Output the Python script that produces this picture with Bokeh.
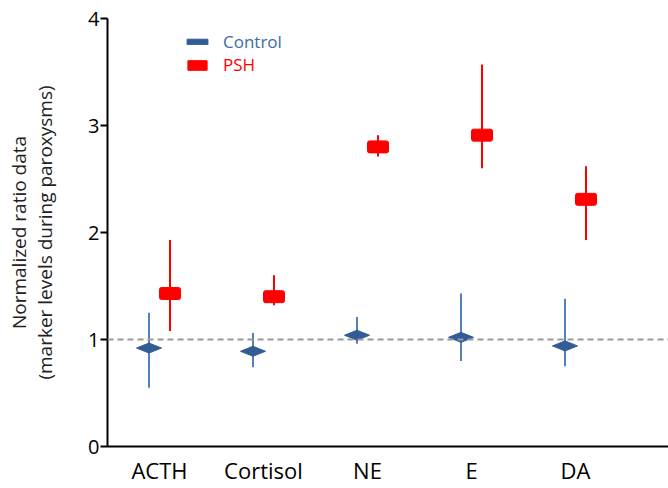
from bokeh.plotting import figure
from bokeh.models import Range1d, Span, Legend, LegendItem, FixedTicker
from bokeh.embed import file_html
from bokeh.resources import INLINE

categories = ["ACTH", "Cortisol", "NE", "E", "DA"]
control_mean = [0.92, 0.89, 1.04, 1.02, 0.94]
control_low = [0.55, 0.74, 0.96, 0.80, 0.75]
control_high = [1.25, 1.06, 1.21, 1.43, 1.38]
psh_mean = [1.43, 1.40, 2.80, 2.91, 2.31]
psh_low = [1.08, 1.32, 2.71, 2.60, 1.93]
psh_high = [1.93, 1.60, 2.91, 3.57, 2.62]
y_ticks = [0, 1, 2, 3, 4]
reference_level = 1.0
y_label_lines = ["Normalized ratio data", "(marker levels during paroxysms)"]

FONT = "Open Sans"
BLUE = "#315c94"
BLUE_LINE = "#5280bd"
RED = "#ff0000"

W, H = 668, 488
ML, MT, MB, MR = 107, 18, 42, 0
frame_w = W - ML - MR
frame_h = H - MT - MB
px_per_cat = 104.0
x0 = 0.5
x1 = x0 + frame_w / px_per_cat
y0, y1 = 0, 4
px_per_y = frame_h / (y1 - y0)

p = figure(width=W, height=H, output_backend="svg", toolbar_location=None,
           x_range=Range1d(x0, x1), y_range=Range1d(y0, y1),
           min_border_left=ML, min_border_top=MT, min_border_bottom=MB, min_border_right=MR)
p.outline_line_color = None
p.grid.visible = False

pos = list(range(1, len(categories) + 1))
off = 10.5 / px_per_cat
cx = [q - off for q in pos]
px = [q + off for q in pos]

# error bars
p.segment(cx, control_low, cx, control_high, line_color=BLUE_LINE, line_width=2)
p.segment(px, psh_low, px, psh_high, line_color=RED, line_width=2)

# diamonds (control)
hw = 12.5 / px_per_cat
hh = 5.0 / px_per_y
dxs = [[x - hw, x, x + hw, x] for x in cx]
dys = [[y, y + hh, y, y - hh] for y in control_mean]
r_ctrl = p.patches(dxs, dys, fill_color=BLUE, line_color=BLUE, line_width=1)

# rects (PSH)
r_psh = p.rect(px, psh_mean, width=21, height=12, width_units="screen", height_units="screen",
               fill_color=RED, line_color=RED, border_radius=2)

p.add_layout(Span(location=reference_level, dimension="width", line_color="#999999",
                  line_width=2, line_dash="6 4"))

# axes
p.xaxis.ticker = FixedTicker(ticks=pos)
p.xaxis.major_label_overrides = {q: c for q, c in zip(pos, categories)}
p.xaxis.major_tick_out = 0
p.xaxis.major_tick_in = 0
p.xaxis.minor_tick_out = 0
p.xaxis.minor_tick_in = 0
p.xaxis.major_label_standoff = 8
p.xaxis.major_label_text_font_size = "22px"
p.yaxis.ticker = FixedTicker(ticks=y_ticks)
p.yaxis.minor_tick_out = 0
p.yaxis.minor_tick_in = 0
p.yaxis.major_tick_out = 7
p.yaxis.major_tick_in = 0
p.yaxis.major_label_standoff = 1
p.yaxis.major_label_text_font_size = "20px"
for ax in (p.xaxis, p.yaxis):
    ax.axis_line_color = "black"
    ax.axis_line_width = 2
    ax.major_tick_line_width = 2
    ax.major_label_text_font = FONT
    ax.major_label_text_color = "black"

p.yaxis.axis_label = "\n".join(y_label_lines)
p.yaxis.axis_label_text_font = FONT
p.yaxis.axis_label_text_font_size = "19px"
p.yaxis.axis_label_text_font_style = "normal"
p.yaxis.axis_label_text_color = "#222222"
p.yaxis.axis_label_text_line_height = 1.0
p.yaxis.axis_label_standoff = 27

# legends
leg_c = Legend(items=[LegendItem(label="Control", renderers=[r_ctrl])],
               location=(77, 393), glyph_width=26, glyph_height=7, label_standoff=13,
               padding=0, margin=0, border_line_color=None, background_fill_alpha=0,
               label_text_font=FONT, label_text_font_size="17px", label_text_color="#3e6aa5")
leg_p = Legend(items=[LegendItem(label="PSH", renderers=[r_psh])],
               location=(78, 370), glyph_width=24, glyph_height=12, label_standoff=14,
               padding=0, margin=0, border_line_color=None, background_fill_alpha=0,
               label_text_font=FONT, label_text_font_size="17px", label_text_color=RED)
p.add_layout(leg_c)
p.add_layout(leg_p)

open("out.html", "w").write(file_html(p, INLINE))
